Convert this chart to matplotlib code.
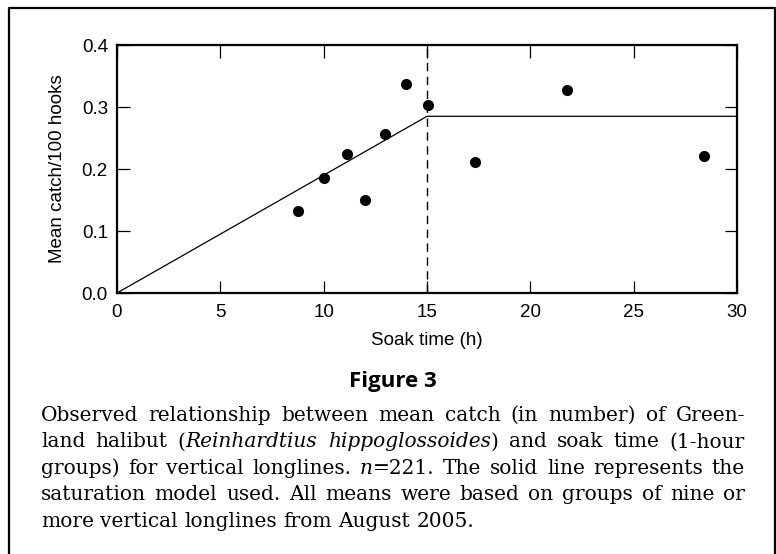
''' Soak time vs mean catch, saturation model '''
import matplotlib
matplotlib.use('Agg')
import matplotlib.pyplot as plt
from matplotlib.lines import Line2D

# data
soak_time = [8.75, 10.0, 11.15, 12.0, 12.95, 14.0, 15.05, 17.3, 21.75, 28.4]
mean_catch = [0.132, 0.186, 0.225, 0.150, 0.256, 0.337, 0.303, 0.212, 0.328, 0.221]
model_x = [0, 15, 30]
model_y = [0, 0.285, 0.285]
break_point = 15
x_ticks = [0, 5, 10, 15, 20, 25, 30]
y_ticks = [0.0, 0.1, 0.2, 0.3, 0.4]

caption_lines = [
    [[('Observed', 0)], [('relationship', 0)], [('between', 0)], [('mean', 0)],
     [('catch', 0)], [('(in', 0)], [('number)', 0)], [('of', 0)], [('Green-', 0)]],
    [[('land', 0)], [('halibut', 0)], [('(', 0), ('Reinhardtius', 1)],
     [('hippoglossoides', 1), (')', 0)], [('and', 0)], [('soak', 0)], [('time', 0)],
     [('(1-hour', 0)]],
    [[('groups)', 0)], [('for', 0)], [('vertical', 0)], [('longlines.', 0)],
     [('n', 1), ('=221.', 0)], [('The', 0)], [('solid', 0)], [('line', 0)],
     [('represents', 0)], [('the', 0)]],
    [[('saturation', 0)], [('model', 0)], [('used.', 0)], [('All', 0)], [('means', 0)],
     [('were', 0)], [('based', 0)], [('on', 0)], [('groups', 0)], [('of', 0)],
     [('nine', 0)], [('or', 0)]],
    [[('more', 0)], [('vertical', 0)], [('longlines', 0)], [('from', 0)],
     [('August', 0)], [('2005.', 0)]],
]

plt.rcParams['font.family'] = ['Liberation Sans', 'DejaVu Sans']

W, H = 776, 554
fig = plt.figure(figsize=(W / 100, H / 100), dpi=100)
ax = fig.add_axes([117 / W, 1 - 293 / H, 620 / W, 248 / H])

ax.plot(model_x, model_y, color='black', lw=0.9)
ax.axvline(break_point, color='black', lw=1.0, linestyle=(0, (6, 4)))
ax.plot(soak_time, mean_catch, 'o', color='black', markersize=7, zorder=3)

ax.set_xlim(0, 30)
ax.set_ylim(0, 0.4)
ax.set_xticks(x_ticks)
ax.set_yticks(y_ticks)
ax.yaxis.set_major_formatter(matplotlib.ticker.FormatStrFormatter('%.1f'))
ax.tick_params(direction='in', length=9, width=0.9, top=True, right=True,
               labelsize=13.5, pad=6.5)
ax.tick_params(axis='x', pad=8)
for s in ax.spines.values():
    s.set_linewidth(1.6)

ax.set_xlabel('Soak time (h)', fontsize=13.5, labelpad=8)
ax.set_ylabel('Mean catch/100 hooks', fontsize=13.5, labelpad=11)

# outer frame (open at the bottom)
fx = [9 / W, 9 / W, 775 / W, 775 / W]
fy = [0, 1 - 7.5 / H, 1 - 7.5 / H, 0]
fig.add_artist(Line2D(fx, fy, transform=fig.transFigure, color='black', lw=1.6))

fig.text(393 / W, 1 - 381 / H, 'Figure 3', ha='center', va='center',
         fontsize=16, fontweight='bold', family='Open Sans')

# justified caption
renderer = fig.canvas.get_renderer()
cap_size = 14.5
left, right = 41, 745
base0, leading = 421, 26.4


def run_text(x, y, s, italic, draw=True):
    t = fig.text(x / W, 1 - y / H, s, ha='left', va='baseline', fontsize=cap_size,
                 family='DejaVu Serif', style='italic' if italic else 'normal')
    w = t.get_window_extent(renderer).width
    if not draw:
        t.remove()
    return w


space_w = run_text(0, 0, 'a b', 0, False) - run_text(0, 0, 'ab', 0, False)

for i, words in enumerate(caption_lines):
    y = base0 + i * leading
    widths = [sum(run_text(0, 0, s, it, False) for s, it in wd) for wd in words]
    last = i == len(caption_lines) - 1
    gap = space_w if last else (right - left - sum(widths)) / (len(words) - 1)
    x = left
    for wd, ww in zip(words, widths):
        xx = x
        for s, it in wd:
            xx += run_text(xx, y, s, it)
        x += ww + gap

fig.savefig('out.png', dpi=100)
